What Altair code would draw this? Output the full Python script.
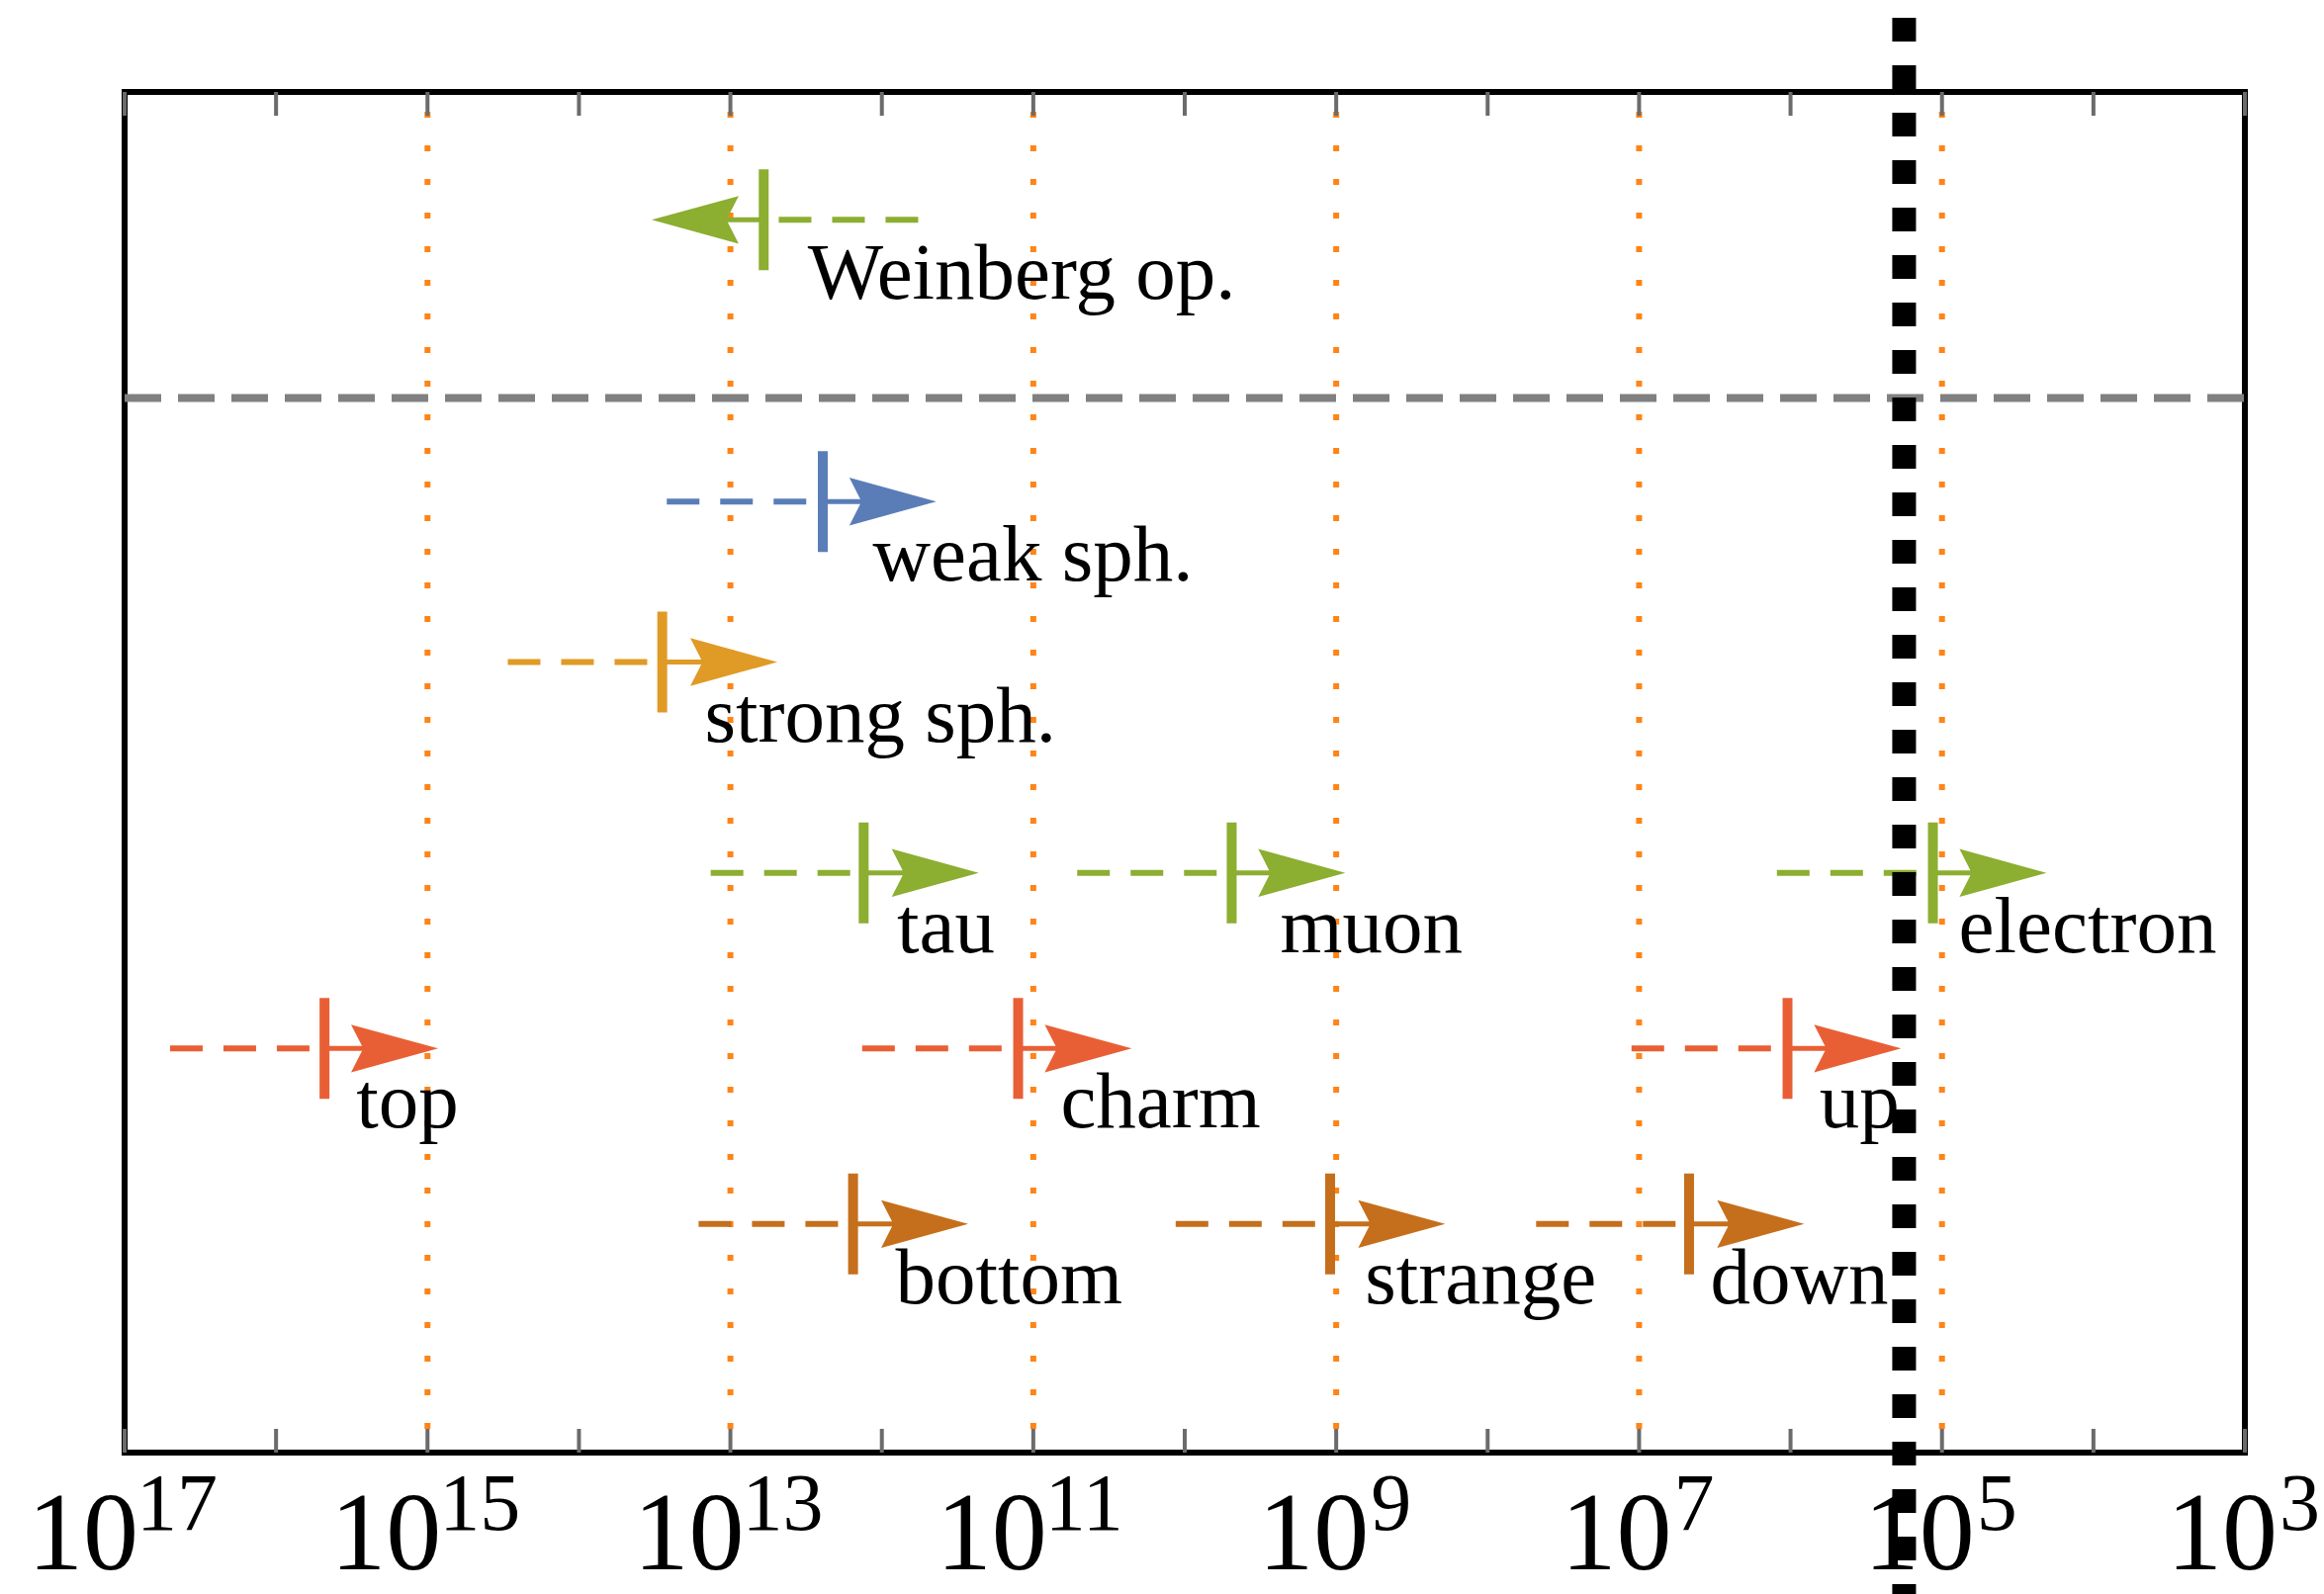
import altair as alt
import pandas as pd

# Equilibration temperatures (log10 T / GeV) for each process
names = ["Weinberg op.", "weak sph.", "strong sph.", "tau", "muon", "electron",
         "top", "charm", "up", "bottom", "strange", "down"]
kinds = ["weinberg", "weak", "strong", "lepton", "lepton", "lepton",
         "upq", "upq", "upq", "downq", "downq", "downq"]
row_y = [0.94, 3.01, 4.19, 5.74, 5.74, 5.74, 7.03, 7.03, 7.03, 8.32, 8.32, 8.32]
bar_x = [12.78, 12.39, 13.45, 12.12, 9.69, 5.06, 15.68, 11.10, 6.02, 12.19, 9.04, 6.67]
dash_x = [11.76, 13.42, 14.47, 13.13, 10.71, 6.09, 16.70, 12.13, 7.05, 13.21, 10.06, 7.68]
tip_x = [13.52, 11.64, 12.69, 11.36, 8.94, 4.31, 14.93, 10.35, 5.27, 11.43, 8.28, 5.91]
label_x = [12.49, 12.06, 13.17, 11.90, 9.37, 4.89, 15.47, 10.82, 5.81, 11.91, 8.81, 6.53]

kind_domain = ["weinberg", "weak", "strong", "lepton", "upq", "downq"]
kind_colors = ["#8cae31", "#5a7db8", "#e09a26", "#8cae31", "#e95f35", "#c56f1c"]

decades = list(range(3, 18))
grid_decades = [5, 7, 9, 11, 13, 15]
label_decades = [17, 15, 13, 11, 9, 7, 5, 3]
separator_y = 2.25
cutoff_x = 5.25

W, H = 2144, 1376
SERIF = "Liberation Serif"

df = pd.DataFrame({
    "name": names, "kind": kinds, "y": row_y, "bar": bar_x,
    "dash": dash_x, "tip": tip_x, "lab": label_x,
})
df["angle"] = [180 if t > b else 0 for t, b in zip(tip_x, bar_x)]

xs = alt.Scale(domain=[17, 3], nice=False, zero=False)
ys = alt.Scale(domain=[10, 0], nice=False, zero=False)
col = alt.Color("kind:N", scale=alt.Scale(domain=kind_domain, range=kind_colors), legend=None)

base = alt.Chart(df)

grid = alt.Chart(pd.DataFrame({"g": grid_decades})).mark_rule(
    color="#ff8418", strokeWidth=6, strokeDash=[6, 28], strokeDashOffset=-20
).encode(x=alt.X("g:Q", scale=xs, axis=None), y=alt.value(0), y2=alt.value(H))

sep = alt.Chart(pd.DataFrame({"s": [separator_y]})).mark_rule(
    color="#808080", strokeWidth=8, strokeDash=[37, 17]
).encode(y=alt.Y("s:Q", scale=ys, axis=None), x=alt.value(0), x2=alt.value(W))

tick_df = pd.DataFrame({"d": decades})
ticks_top = alt.Chart(tick_df).mark_rule(color="#6b6b6b", strokeWidth=4).encode(
    x=alt.X("d:Q", scale=xs, axis=None), y=alt.value(0), y2=alt.value(24))
ticks_bot = alt.Chart(tick_df).mark_rule(color="#6b6b6b", strokeWidth=4).encode(
    x=alt.X("d:Q", scale=xs, axis=None), y=alt.value(H - 24), y2=alt.value(H))

dashed = base.mark_rule(strokeWidth=6, strokeDash=[33, 21]).encode(
    x=alt.X("dash:Q", scale=xs, axis=None), x2="bar:Q",
    y=alt.Y("y:Q", scale=ys, axis=None), color=col)

solid_r = base.transform_filter("datum.angle == 0").mark_rule(
    strokeWidth=5, x2Offset=-40).encode(
    x=alt.X("bar:Q", scale=xs, axis=None), x2="tip:Q",
    y=alt.Y("y:Q", scale=ys, axis=None), color=col)
solid_l = base.transform_filter("datum.angle == 180").mark_rule(
    strokeWidth=5, x2Offset=40).encode(
    x=alt.X("bar:Q", scale=xs, axis=None), x2="tip:Q",
    y=alt.Y("y:Q", scale=ys, axis=None), color=col)

bars = base.mark_tick(orient="vertical", size=102, thickness=10, opacity=1).encode(
    x=alt.X("bar:Q", scale=xs, axis=None),
    y=alt.Y("y:Q", scale=ys, axis=None), color=col)

heads = base.mark_point(
    shape="M0,0 L-2,-0.55 L-1.72,0 L-2,0.55 Z", filled=True, opacity=1,
    size=7744, strokeWidth=0).encode(
    x=alt.X("tip:Q", scale=xs, axis=None),
    y=alt.Y("y:Q", scale=ys, axis=None),
    angle=alt.Angle("angle:Q", scale=None), color=col)

labels = base.mark_text(
    font=SERIF, fontSize=81, align="left", baseline="alphabetic", dy=80, color="black"
).encode(x=alt.X("lab:Q", scale=xs, axis=None),
         y=alt.Y("y:Q", scale=ys, axis=None), text="name:N")

tl = pd.DataFrame({"v": label_decades})
tl["e"] = tl["v"].astype(str)
tl["ten"] = "10"
tl2 = alt.Chart(tl).transform_filter("length(datum.e) == 2")
tl1 = alt.Chart(tl).transform_filter("length(datum.e) == 1")

BASE_Y = H + 118
EXP_Y = H + 78

ten2 = tl2.mark_text(font=SERIF, fontSize=112, align="right", baseline="alphabetic",
                     dx=14, color="black").encode(
    x=alt.X("v:Q", scale=xs, axis=None), y=alt.value(BASE_Y), text="ten:N")
exp2 = tl2.mark_text(font=SERIF, fontSize=82, align="left", baseline="alphabetic",
                     dx=12, color="black").encode(
    x=alt.X("v:Q", scale=xs, axis=None), y=alt.value(EXP_Y), text="e:N")
ten1 = tl1.mark_text(font=SERIF, fontSize=112, align="right", baseline="alphabetic",
                     dx=33, color="black").encode(
    x=alt.X("v:Q", scale=xs, axis=None), y=alt.value(BASE_Y), text="ten:N")
exp1 = tl1.mark_text(font=SERIF, fontSize=82, align="left", baseline="alphabetic",
                     dx=35, color="black").encode(
    x=alt.X("v:Q", scale=xs, axis=None), y=alt.value(EXP_Y), text="e:N")

cutoff = alt.Chart(pd.DataFrame({"c": [cutoff_x]})).mark_rule(
    color="black", strokeWidth=24, strokeDash=[24, 24]).encode(
    x=alt.X("c:Q", scale=xs, axis=None), y=alt.value(-75), y2=alt.value(H + 143))

chart = alt.layer(
    grid, sep, ticks_top, ticks_bot, dashed, solid_r, solid_l, bars, heads, labels,
    ten2, exp2, ten1, exp1, cutoff
).properties(
    width=W, height=H,
    autosize=alt.AutoSizeParams(type="none"),
    padding={"left": 126, "top": 93, "right": 80, "bottom": 143},
    background="white",
).configure_view(stroke="black", strokeWidth=6)

chart.save("out.html", embed_options={"renderer": "svg", "actions": False})
